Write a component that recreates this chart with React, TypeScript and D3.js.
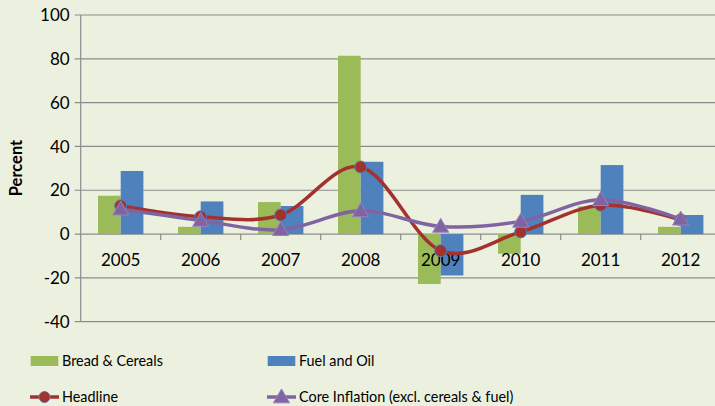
import React from "react";
import * as d3 from "d3";

const years = ["2005", "2006", "2007", "2008", "2009", "2010", "2011", "2012"];
const breadCereals = [17.5, 3.3, 14.6, 81.4, -22.8, -9.0, 12.6, 3.3];
const fuelOil = [28.8, 14.9, 12.8, 33.0, -18.9, 17.9, 31.5, 8.7];
const headline = [12.9, 7.9, 8.7, 30.6, -7.6, 1.0, 13.2, 6.5];
const coreInflation = [11.4, 6.2, 2.0, 10.6, 3.5, 5.8, 15.7, 6.8];
const yTicks = [-40, -20, 0, 20, 40, 60, 80, 100];

const W = 715;
const H = 406;
const FONT = "Lato, 'Open Sans', sans-serif";
const GREEN = "#9BBB59";
const BLUE = "#4F81BD";
const RED = "#A3322E";
const PURPLE = "#8064A2";
const GRID = "#8C8C8C";

export default function App() {
  const x = d3.scaleBand<string>().domain(years).range([80.7, 720.7]).padding(0);
  const inner = d3
    .scaleBand<string>()
    .domain(["bread", "fuel"])
    .range([x.bandwidth() / 2 - 22.7, x.bandwidth() / 2 + 22.7])
    .padding(0);
  const y = d3.scaleLinear().domain([-40, 100]).range([321.7, 15]);
  const cx = (i: number) => (x(years[i]) as number) + x.bandwidth() / 2;
  const line = d3
    .line<number>()
    .x((_, i) => cx(i))
    .y((d) => y(d))
    .curve(d3.curveCardinal.tension(0));

  const left = 80.7;
  const y0 = y(0);

  const tri = (px: number, py: number, s: number) =>
    `M${px},${py - s * 0.62} L${px + s * 0.62},${py + s * 0.45} L${px - s * 0.62},${py + s * 0.45} Z`;

  return (
    <div style={{ position: "fixed", left: 0, top: 0, width: W, height: H }}>
      <svg width={W} height={H} style={{ display: "block", fontFamily: FONT }}>
        <rect x={0} y={0} width={W} height={H} fill="#EBF1DE" />
        {/* gridlines */}
        {yTicks.map((t) => (
          <line key={t} x1={left - 6} x2={W} y1={y(t)} y2={y(t)} stroke={GRID} strokeWidth={1.2} />
        ))}
        <line x1={left} x2={left} y1={y(100)} y2={y(-40)} stroke={GRID} strokeWidth={1.2} />
        {/* category ticks */}
        {years.map((yr, i) =>
          i === 0 ? null : (
            <line key={yr} x1={x(yr) as number} x2={x(yr) as number} y1={y0} y2={y0 + 6} stroke={GRID} strokeWidth={1.2} />
          )
        )}
        {/* y tick labels */}
        {yTicks.map((t) => (
          <text key={t} x={left - 11} y={y(t)} dy="0.36em" textAnchor="end" fontSize={17} fill="#000">
            {t}
          </text>
        ))}
        <text
          transform={`translate(21.5,${168}) rotate(-90)`}
          textAnchor="middle"
          fontSize={16.5}
          fontWeight="bold"
          fill="#000"
        >
          Percent
        </text>
        {/* bars */}
        {years.map((yr, i) => {
          const bx = x(yr) as number;
          const b = breadCereals[i];
          const f = fuelOil[i];
          return (
            <g key={yr}>
              <rect
                x={bx + (inner("bread") as number)}
                width={inner.bandwidth()}
                y={Math.min(y(b), y0)}
                height={Math.abs(y(b) - y0)}
                fill={GREEN}
              />
              <rect
                x={bx + (inner("fuel") as number)}
                width={inner.bandwidth()}
                y={Math.min(y(f), y0)}
                height={Math.abs(y(f) - y0)}
                fill={BLUE}
              />
            </g>
          );
        })}
        {/* category labels */}
        {years.map((yr, i) => (
          <text key={yr} x={cx(i)} y={y0 + 26} dy="0.36em" textAnchor="middle" fontSize={17} fill="#000">
            {yr}
          </text>
        ))}
        {/* headline */}
        <path d={line(headline) as string} fill="none" stroke={RED} strokeWidth={3.5} />
        {headline.map((v, i) => (
          <circle key={i} cx={cx(i)} cy={y(v)} r={6} fill={RED} stroke={BLUE} strokeWidth={1} />
        ))}
        {/* core */}
        <path d={line(coreInflation) as string} fill="none" stroke={PURPLE} strokeWidth={3.5} />
        {coreInflation.map((v, i) => (
          <path key={i} d={tri(cx(i), y(v), 13)} fill={PURPLE} stroke="#9A80BE" strokeWidth={1} />
        ))}
        {/* legend */}
        <rect x={30.7} y={356} width={27.6} height={10} fill={GREEN} />
        <text x={62} y={361} dy="0.36em" fontSize={14.4} fill="#000">Bread &amp; Cereals</text>
        <rect x={267.7} y={356} width={27.6} height={10} fill={BLUE} />
        <text x={299} y={361} dy="0.36em" fontSize={14.4} fill="#000">Fuel and Oil</text>
        <line x1={30} x2={59} y1={397} y2={397} stroke={RED} strokeWidth={3.5} />
        <circle cx={44.5} cy={397} r={5.5} fill={RED} stroke={BLUE} strokeWidth={1} />
        <text x={62} y={397} dy="0.36em" fontSize={14.4} fill="#000">Headline</text>
        <line x1={267} x2={296} y1={397} y2={397} stroke={PURPLE} strokeWidth={3.5} />
        <path d={tri(281.5, 397, 13)} fill={PURPLE} stroke="#9A80BE" strokeWidth={1} />
        <text x={299} y={397} dy="0.36em" fontSize={14.4} fill="#000">Core Inflation (excl. cereals &amp; fuel)</text>
      </svg>
    </div>
  );
}
